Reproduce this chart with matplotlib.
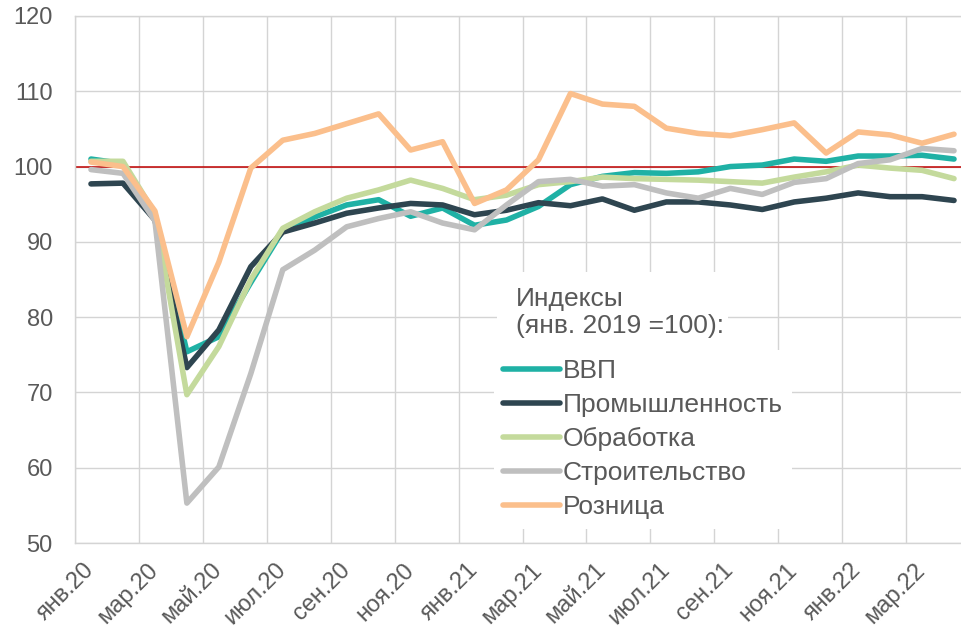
import numpy as np
import matplotlib
matplotlib.use('Agg')
import matplotlib.pyplot as plt
from matplotlib.patches import Rectangle

plt.rcParams['font.family'] = ['Liberation Sans', 'DejaVu Sans']

# данные: помесячно, янв.20 - апр.22
months = ['янв.20', 'фев.20', 'мар.20', 'апр.20', 'май.20', 'июн.20', 'июл.20', 'авг.20',
          'сен.20', 'окт.20', 'ноя.20', 'дек.20', 'янв.21', 'фев.21', 'мар.21', 'апр.21',
          'май.21', 'июн.21', 'июл.21', 'авг.21', 'сен.21', 'окт.21', 'ноя.21', 'дек.21',
          'янв.22', 'фев.22', 'мар.22', 'апр.22']

gdp = [101.0, 100.4, 93.5, 75.4, 77.4, 84.6, 91.5, 93.3, 94.9, 95.6, 93.4, 94.5, 92.2, 92.9,
       94.7, 97.6, 98.7, 99.2, 99.1, 99.3, 100.0, 100.2, 101.0, 100.7, 101.4, 101.4, 101.5, 101.0]
industry = [97.7, 97.8, 92.9, 73.3, 78.3, 86.7, 91.3, 92.5, 93.8, 94.5, 95.1, 94.9, 93.6, 94.2,
            95.2, 94.8, 95.7, 94.2, 95.3, 95.3, 94.9, 94.3, 95.3, 95.8, 96.5, 96.0, 96.0, 95.5]
manufacturing = [100.7, 100.7, 93.8, 69.7, 76.1, 85.0, 91.8, 94.0, 95.8, 96.9, 98.2, 97.1, 95.6, 96.2,
                 97.6, 98.0, 98.6, 98.4, 98.3, 98.2, 98.0, 97.8, 98.6, 99.3, 100.2, 99.8, 99.5, 98.4]
construction = [99.6, 99.1, 92.8, 55.3, 60.1, 72.5, 86.3, 88.9, 92.0, 93.1, 94.0, 92.5, 91.6, 94.9,
                98.0, 98.3, 97.4, 97.6, 96.5, 95.8, 97.1, 96.3, 97.9, 98.4, 100.4, 100.9, 102.4, 102.1]
retail = [100.6, 100.0, 94.1, 77.4, 87.3, 99.8, 103.5, 104.4, 105.7, 107.0, 102.2, 103.3, 95.1, 96.9,
          100.9, 109.7, 108.3, 108.0, 105.1, 104.4, 104.1, 104.9, 105.8, 101.8, 104.6, 104.2, 103.1, 104.3]

series = [
    ('ВВП', gdp, '#1fb1a5'),
    ('Промышленность', industry, '#2e4550'),
    ('Обработка', manufacturing, '#c4da9c'),
    ('Строительство', construction, '#bfbfbf'),
    ('Розница', retail, '#fbbf8c'),
]

fig = plt.figure(figsize=(9.61, 6.31), dpi=100)
W, H = 961, 631
ax = fig.add_axes([75 / W, 1 - 543 / H, 895 / W, 527 / H])

x = np.arange(len(months))
for name, vals, col in series:
    ax.plot(x, vals, color=col, lw=4.0, label=name, solid_capstyle='round', zorder=3)

ax.axhline(100, color='#c00000', lw=1.1, zorder=2.5)

ax.set_xlim(-0.5, len(months) - 0.5)
ax.set_ylim(50, 120)
ax.set_yticks(np.arange(50, 121, 10))
ax.set_xticks(x[::2])
ax.set_xticklabels(months[::2], rotation=45, ha='right', va='center', rotation_mode='anchor')
ax.set_xticks(np.arange(-0.5, len(months), 2), minor=True)

ax.grid(axis='y', which='major', color='#d4d4d4', lw=1.0, zorder=0)
ax.grid(axis='x', which='minor', color='#d4d4d4', lw=1.0, zorder=0)
ax.tick_params(axis='both', which='both', length=0, labelsize=17, labelcolor='#595959')
ax.tick_params(axis='y', pad=16)
ax.tick_params(axis='x', pad=17)
for s in ax.spines.values():
    s.set_color('#d4d4d4')
    s.set_linewidth(1.0)

# белая подложка под заголовком легенды
ax.add_patch(Rectangle((497 / W, 1 - 350 / H), 231 / W, 78 / H, transform=fig.transFigure,
                       facecolor='white', edgecolor='none', zorder=4, clip_on=False))
ax.text(516 / W, 1 - 287 / H, 'Индексы\n(янв. 2019 =100):', transform=fig.transFigure,
        ha='left', va='top', fontsize=19, color='#595959', linespacing=1.15, zorder=5)

leg = ax.legend(loc='upper left', bbox_to_anchor=(494 / W, 1 - 350 / H),
                bbox_transform=fig.transFigure, fontsize=19, frameon=True,
                facecolor='white', edgecolor='none', framealpha=1, fancybox=False,
                handlelength=2.15, handletextpad=0.1, labelspacing=0.38,
                borderpad=0.35, borderaxespad=0)
leg.set_zorder(5)
for t in leg.get_texts():
    t.set_color('#595959')

fig.savefig('out.png', dpi=100)
